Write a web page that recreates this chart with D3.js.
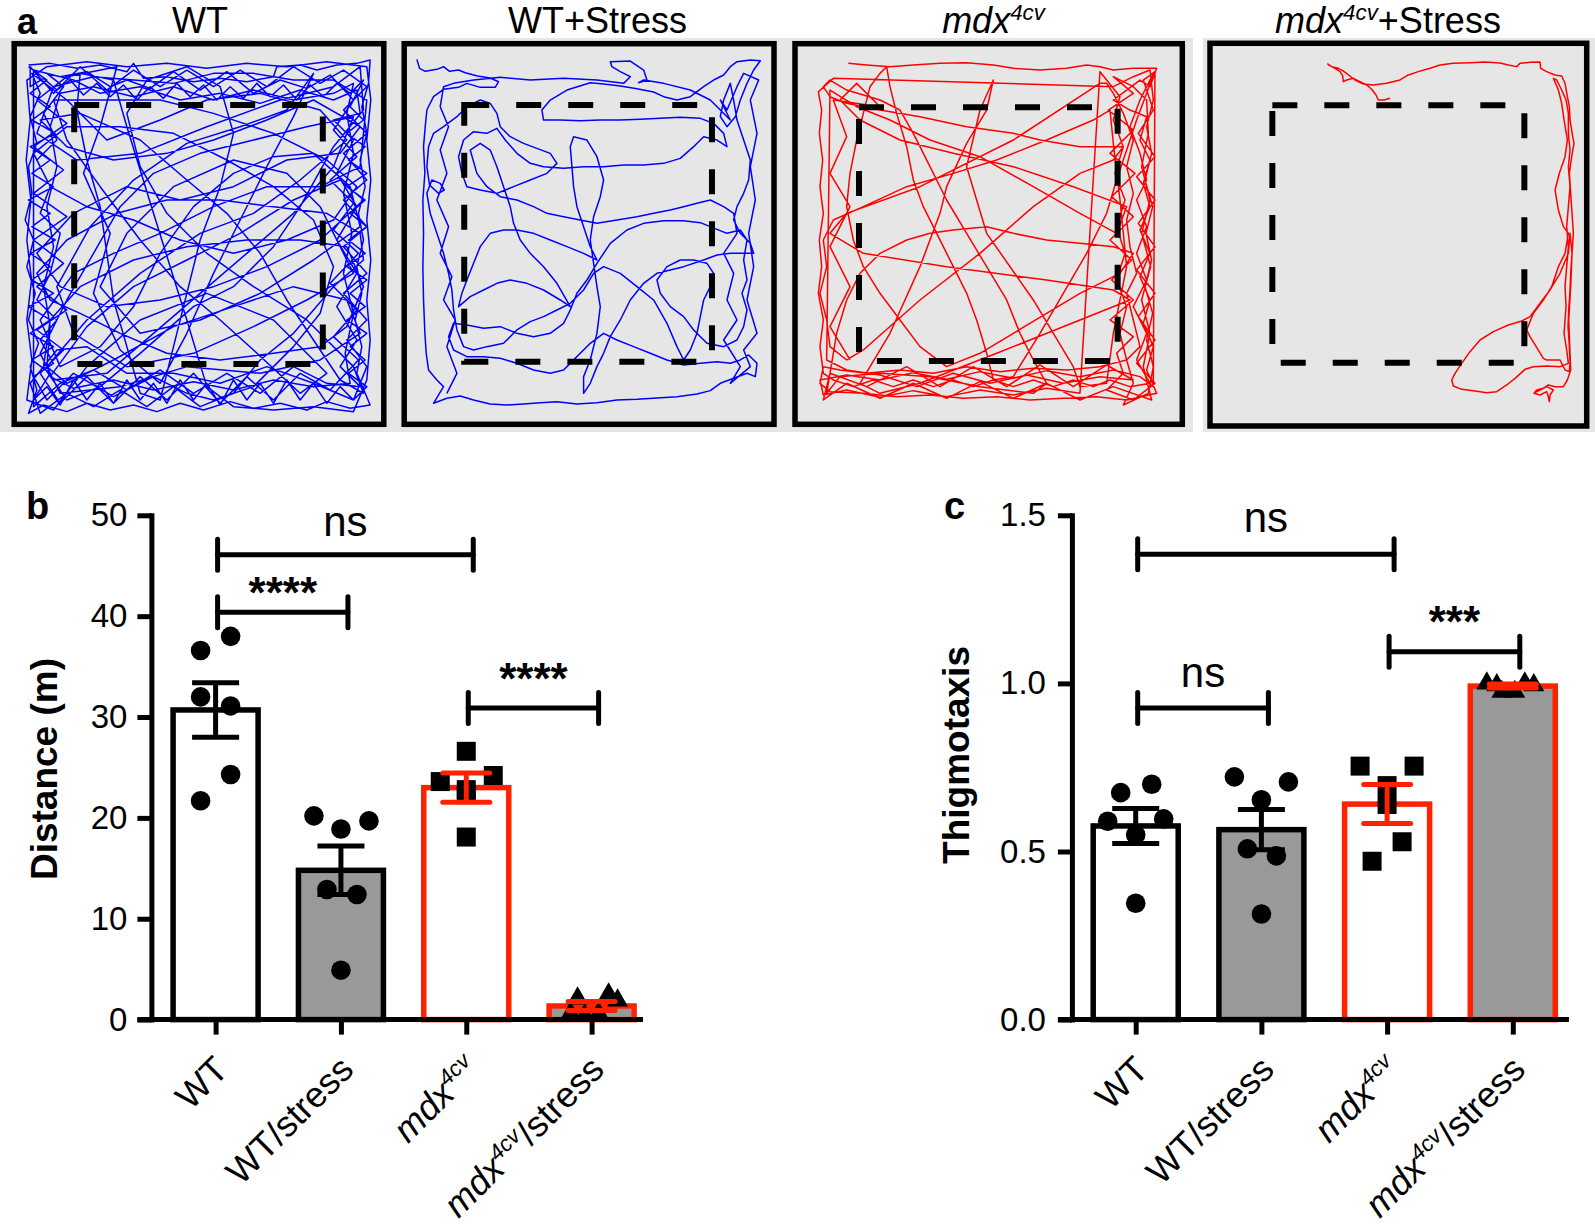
<!DOCTYPE html>
<html>
<head>
<meta charset="utf-8">
<script src="https://cdn.jsdelivr.net/npm/d3@7"></script>
<style>
  html, body { margin: 0; padding: 0; background: #fff; }
  svg { display: block; }
</style>
</head>
<body>
<svg id="fig" width="1595" height="1231"></svg>
<script>
// ------------------------------------------------------------------
// DATA
// ------------------------------------------------------------------
const arenaTitles = ["WT", "WT+Stress", "mdx4cv", "mdx4cv+Stress"];
const categories = ["WT", "WT/stress", "mdx4cv", "mdx4cv/stress"];

// Panel b: distance travelled (m)
const distanceTicks = [0, 10, 20, 30, 40, 50];
const distanceMean = [30.7, 14.8, 23.0, 1.35];
const distanceSEM  = [2.7, 2.4, 1.45, 0.45];
const distancePoints = [
  [36.6, 38.0, 32.0, 31.1, 24.3, 21.7],
  [20.2, 19.7, 18.9, 12.9, 12.4, 4.9],
  [26.6, 23.6, 24.2, 22.3, 18.1, 22.8],
  [2.1, 2.5, 1.9, 0.6, 0.4, 0.6]
];
const distanceBrackets = [
  { from: 0, to: 2, level: 46.1, label: "ns" },
  { from: 0, to: 1, level: 40.4, label: "****" },
  { from: 2, to: 3, level: 30.9, label: "****" }
];

// Panel c: thigmotaxis
const thigTicks = [0, 0.5, 1.0, 1.5];
const thigMean = [0.576, 0.565, 0.641, 0.992];
const thigSEM  = [0.052, 0.060, 0.058, 0.006];
const thigPoints = [
  [0.675, 0.700, 0.590, 0.597, 0.550, 0.346],
  [0.722, 0.707, 0.654, 0.508, 0.487, 0.314],
  [0.754, 0.754, 0.696, 0.529, 0.471, 0.640],
  [0.995, 1.000, 0.995, 1.000, 0.975, 0.975]
];
const thigBrackets = [
  { from: 0, to: 2, level: 1.384, label: "ns" },
  { from: 0, to: 1, level: 0.927, label: "ns" },
  { from: 2, to: 3, level: 1.094, label: "***" }
];

// Panel a: open-field tracks, in tracker (camera) units.
const arenaFrames = [[42, 1151, 131, 1273], [42, 1151, 131, 1273], [45, 1207, 131, 1273], [150, 1280, 130, 1278]];
const centerZones = [[222, 968, 315, 1092], [222, 965, 315, 1085], [237, 1013, 322, 1083], [337, 1093, 316, 1088]];

const trackWT = [
[85,195],[150,190],[230,205],[300,195],[380,215],[400,190],[430,235],[500,230],[580,245],[660,235],[740,245],[820,230],[830,200],[900,195],[950,210],[1010,195],[1070,190],[1110,180],[1105,250],[1085,320],[1100,400],[1080,480],[1095,560],[1075,640],[1090,720],[1070,800],[1085,880],[1065,960],[1085,1040],[1070,1120],[1110,1215],[1050,1225],[980,1205],[920,1230],[840,1210],[760,1225],[690,1205],[610,1230],[540,1210],[470,1235],[400,1215],[330,1230],[260,1210],[200,1235],[130,1215],[85,1240],[110,1170],[90,1100],[115,1030],[85,960],[105,880],[80,800],[100,720],[75,660],[95,580],[85,500],[110,430],[90,350],[120,280],[95,220],
[200,300],[320,420],[480,360],[620,300],[780,280],[960,330],[1040,420],[900,540],[760,640],[600,700],[420,820],[260,960],[140,1100],[200,1150],[340,1080],[520,980],[700,920],[880,860],[1040,900],[1080,1000],[960,1080],[780,1120],[560,1100],[360,1160],[180,1180],[120,1060],[200,900],[280,760],[360,620],[460,520],[600,460],[760,420],[920,380],[1060,350],[1000,500],[880,640],[740,760],[600,880],[460,1000],[320,1120],[160,1140],
[140,1100],[150,980],[130,860],[160,740],[140,620],[170,500],[150,380],[180,280],[280,260],[400,290],[520,260],[640,300],[760,270],[880,300],[1000,280],[1060,250],[1040,340],[1060,460],[1030,580],[1055,700],[1030,820],[1060,940],[1035,1060],[1050,1150],[940,1160],[820,1140],[700,1170],[580,1145],[460,1170],[340,1140],[220,1165],[150,1130],
[260,980],[400,860],[560,780],[720,700],[880,600],[1020,540],[1090,600],[960,720],[800,800],[640,860],[480,900],[320,920],[180,860],[110,760],[220,640],[380,560],[540,600],[700,560],[860,480],[1020,460],[1080,380],[940,300],[800,360],[640,420],[500,460],[340,480],[200,440],[120,360],[240,340],[420,420],[560,540],[680,640],[780,760],[860,900],[940,1020],[1020,1140],[1090,1180],[1060,1100],
[920,960],[760,860],[620,760],[500,640],[420,500],[380,340],[440,240],[560,200],[660,260],[700,400],[660,560],[600,720],[560,880],[520,1040],[480,1200],[420,1180],[380,1040],[340,900],[320,760],[300,620],[260,480],[230,330],[240,220],[340,240],[380,380],[460,640],[560,960],[620,1160],
[700,1220],[820,1230],[940,1220],[1060,1235],[1100,1140],[1110,1020],[1100,900],[1112,780],[1100,660],[1112,540],[1100,420],[1112,300],[1100,200],[980,185],[860,200],[740,190],[620,205],[500,190],[380,200],[260,185],[140,200],[80,240],[90,360],[78,480],[92,600],[80,720],[94,840],[80,960],[95,1080],[80,1200],[160,1230],
[260,1100],[420,960],[620,880],[820,960],[980,1120],[900,1180],[760,1050],[660,960],[540,860],[420,720],[300,560],[200,420],[160,300],[300,300],[480,300],[640,340],[820,400],[980,480],[1070,560],[1000,660],[860,720],[700,760],[540,720],[400,660],[260,620],[150,560],[100,460],[200,380],[360,380],[520,400],[680,480],[820,560],[940,660],[1000,800],[960,940],[880,1040],[760,1160],[640,1200],
[560,1180],[460,1130],[340,1190],[220,1120],[140,1200],[100,1130],[160,1090],[120,1020],[170,960],[110,900],[150,820],[180,700],[120,640],[150,560],[110,480],[170,420],[130,340],[190,260],[140,220],[220,240],[300,280],[420,260],[540,300],[660,280],[780,310],[900,270],[1000,300],[1070,270],[1080,340],[1000,360],[1060,420],[1010,520],[1070,620],[1010,720],[1070,820],[1010,920],[1070,1020],[1020,1100],[1080,1160],[980,1150],[880,1100],[780,1180],[680,1120],[580,1180],[480,1110],[380,1170],[280,1110],[180,1150],[100,1220],
[100,210],[180,230],[260,215],[330,260],[380,240],[450,265],[520,215],[600,270],[680,215],[760,280],[840,240],[920,265],[990,225],[1060,300],[1000,390],[1070,470],[990,540],[1060,610],[1000,690],[1075,760],[990,850],[1070,930],[1000,1010],[1075,1080],[990,1170],[900,1120],[820,1200],[740,1130],[660,1210],[580,1120],[500,1200],[420,1130],[340,1210],[260,1130],[180,1210],[120,1120],[190,1050],[110,990],[200,930],[110,860],[190,790],[100,720],[200,650],[100,580],[190,510],[100,440],[200,370],[110,300],[200,230],
[350,200],[300,380],[250,520],[330,700],[280,880],[360,1050],[480,1150],[560,1000],[640,820],[720,660],[800,500],[880,350],[940,220],[860,330],[720,380],[560,430],[400,540],[270,680],[170,860],[220,1000],[380,1100],[580,1060],[760,980],[920,900],[1060,820],[960,620],[860,520],[700,480],[520,560],[380,700],[300,860],[420,1000],[600,960],[780,880],[940,780],[1080,680],
[1050,560],[940,460],[820,470],[700,520],[580,620],[480,760],[400,920],[300,1040],[180,1100],[120,960],[220,820],[340,760],[480,700],[640,620],[800,560],[960,560],[1080,500],[1100,300],[1000,240],[880,240],[760,220],[640,220],[520,250],[400,240],[280,230],[160,260],[110,400],[230,480],[420,460],[620,380],[840,300],[1000,260],
[1080,200],[1090,330],[1000,440],[900,620],[820,740],[700,860],[580,920],[420,1060],[300,1160],[200,1200],[130,1100],[150,960],[240,860],[400,780],[560,740],[740,720],[900,720],[1040,740],[1090,860],[1040,980],[960,1040],[820,1060],[660,1080],[500,1060],[360,1000],[240,940],[150,900],[110,820],[200,720],[350,640],[500,600],[660,600],[820,620],[980,640],[1080,700],
[1090,780],[1000,860],[880,1000],[780,1080],[700,1180],[600,1220],[520,1160],[440,1220],[360,1170],[280,1220],[200,1180],[120,1240],[90,1150],[170,1050],[260,1040],[380,1120],[520,1120],[660,1150],[800,1100],[940,1150],[1060,1200],[1100,1100],[1040,1020],[1100,960],[1030,880],[1100,820],[1030,740],[1100,680],[1030,600],[1100,540],[1030,460],[1100,400],[1030,330],[1100,260],[1030,210],[960,250],[880,200],[800,260],[720,210],[640,260],[560,210],[480,260],[400,210],[320,270],[240,200],[160,280],[90,200],
[90,260],[130,235],[170,270],[210,240],[250,285],[290,250],[330,290],[370,255],[410,300],[450,260],[490,295],[530,250],[570,290],[610,255],[650,300],[690,260],[730,295],[770,250],[810,290],[850,255],[890,300],[930,255],[970,290],[1010,250],[1050,280],[1090,240],
[1050,320],[1090,360],[1040,400],[1095,440],[1045,480],[1100,520],[1040,560],[1095,600],[1050,640],[1100,680],[1045,720],[1095,760],[1040,800],[1100,840],[1050,880],[1095,920],[1040,960],[1100,1000],[1050,1040],[1095,1080],[1045,1120],[1100,1160],[1060,1200],
[1020,1160],[980,1210],[940,1150],[900,1200],[860,1140],[820,1210],[780,1150],[740,1200],[700,1140],[660,1215],[620,1150],[580,1200],[540,1140],[500,1210],[460,1150],[420,1200],[380,1140],[340,1210],[300,1150],[260,1200],[220,1140],[180,1215],[140,1160],[100,1200],
[150,1120],[95,1080],[160,1040],[90,1000],[150,960],[85,920],[160,880],[95,840],[150,800],[90,760],[165,720],[95,680],[150,640],[85,600],[160,560],[95,520],[150,480],[90,440],[165,400],[95,360],[150,320],[90,280],[140,240],[85,200]
];

const trackWTStress = [
[80,178],[88,205],[105,214],[140,208],[160,200],[178,214],[205,210],[225,218],[262,228],[300,234],[325,245],[315,262],[270,262],[230,250],[205,262],[160,268],[130,290],[110,330],[105,380],[100,440],[104,520],[98,600],[100,700],[98,800],[100,900],[104,1000],[108,1060],[115,1110],[140,1140],[160,1160],[145,1185],[130,1210],[170,1195],[210,1188],[250,1200],[300,1212],[350,1215],[400,1212],[450,1208],[500,1205],[560,1212],[620,1208],[680,1200],[740,1198],[800,1194],[860,1190],[920,1182],[960,1172],[990,1150],[1030,1135],[1070,1120],[1095,1130],[1100,1090],[1075,1065],[1050,1080],[1020,1090],[980,1085],[930,1090],[880,1095],[830,1080],[780,1060],[730,1040],[680,1020],[640,1000],[600,1030],[570,1060],[545,1085],[520,1110],[480,1120],[430,1110],[380,1090],[330,1075],[280,1070],[230,1070],[190,1050],[175,1010],[190,970],[230,975],[280,985],[330,980],[380,1000],[430,1010],[480,1000],[520,970],[540,930],[560,880],[590,840],[620,790],[660,730],[710,690],[760,670],[820,662],[880,662],[930,668],[980,688],[1010,700],[1050,690],[1070,720],[1060,780],[1070,840],[1055,880],[1070,930],[1060,980],[1040,1020],[1000,1040],[950,1030],[910,990],[880,950],[840,920],[810,880],[800,840],[830,800],[870,780],[910,780],[950,790],[970,820],[960,860],[940,900],[930,950],[920,1000],[900,1050],[880,1080],
[860,1040],[830,970],[790,900],[740,860],[690,820],[640,800],[610,820],[580,870],[540,910],[500,930],[460,950],[420,965],[380,990],[340,1030],[290,1040],[250,1050],[220,1040],[200,990],[190,930],[185,870],[175,820],[160,760],[140,700],[120,640],[110,580],[125,540],[150,550],[162,570],[145,580],[118,555],[110,500],[115,440],[130,400],[160,380],[200,350],[230,320],[270,300],[300,310],[320,340],[330,380],[360,410],[400,430],[440,445],[480,460],[500,490],
[470,520],[420,540],[370,560],[320,580],[270,570],[230,560],[215,520],[205,470],[220,420],[250,395],[290,400],[320,385],[345,420],[380,460],[420,490],[460,500],[520,505],[580,500],[640,500],[700,495],[760,495],[820,490],[870,475],[910,440],[940,410],[980,420],[1010,440],[1000,400],[970,370],[930,355],[870,352],[810,355],[750,358],[690,360],[630,360],[570,362],[510,360],[460,360],[455,330],[480,300],[530,270],[600,248],[640,252],[690,258],[740,266],[790,276],[820,290],[860,300],[900,290],[940,260],[970,240],[1000,225],[1020,200],[1040,185],[1080,180],[1110,182],
[1090,210],[1070,250],[1050,300],[1035,350],[1010,380],[990,350],[1000,300],[1020,250],[1030,300],[1040,360],[1060,420],[1080,480],[1075,540],[1060,580],[1040,620],[1030,660],[1050,700],[1080,730],[1090,760],
[1060,760],[1020,760],[980,765],[940,780],[880,800],[840,810],[800,820],[760,850],[720,900],[690,960],[660,1010],[640,1060],[620,1100],[600,1150],[580,1180],
[580,1130],[600,1080],[620,1000],[630,920],[620,860],[610,790],[600,720],[610,650],[630,590],[640,540],[620,470],[590,420],[550,410],[540,440],[545,500],[550,560],[560,620],[580,680],[600,740],[620,780],
[580,760],[530,740],[480,720],[430,700],[380,690],[340,690],[300,700],[270,740],[250,790],[230,840],[215,880],[205,920],
[240,890],[280,870],[320,850],[360,840],[410,850],[460,870],[510,900],[540,920],
[500,850],[460,800],[420,760],[390,720],[370,670],[360,620],[340,560],[320,500],[300,450],[270,430],[240,450],
[260,520],[290,560],[330,590],[380,600],[430,620],[470,640],[520,650],[570,660],[620,670],[680,660],[740,650],[790,640],[840,630],[880,620],[920,610],[960,600],[1000,620],[1030,640],
[1040,700],[1000,760],[1030,820],[1010,900],[1040,960],[1000,1020],[1050,1100],[1020,1150],[1080,1100],[1060,1050],[1100,1000],[1070,900],[1090,800],[1075,700],[1095,600],[1080,500],[1100,400],[1080,300],[1105,240],
[1060,220],[1040,260],[1010,330],[990,300],[1020,360],[960,300],[900,270],[820,250],[760,240],
[745,248],[770,240],[760,210],[720,183],[660,185],[665,200],[690,215],[720,230],[700,250],[620,240],[520,235],[420,240],[330,232],[250,240],[190,250],[160,260],
[150,320],[175,380],[150,450],[170,520],[140,600],[175,680],[150,760],[185,830],[160,900],[195,960],[170,1040],[200,1120],[170,1180]
];

const trackMdx = [
[205,190],[260,195],[330,200],[400,195],[480,190],[560,188],[640,195],[700,205],[780,210],[860,205],[920,195],[960,200],[1000,210],[1060,205],[1130,205],
[1110,260],[1080,240],[1040,270],[1000,300],[1050,330],[1100,350],[1080,420],[1110,480],[1090,550],[1110,620],[1080,690],[1110,760],[1080,830],[1110,900],[1090,970],[1120,1040],[1100,1110],[1130,1180],[1040,1200],[950,1190],[850,1195],[750,1200],[650,1190],[550,1195],[450,1185],[350,1190],[250,1180],[150,1175],[120,1150],[130,1100],[180,1110],[260,1120],[360,1110],[460,1120],[560,1100],[660,1115],[760,1105],[860,1110],[960,1100],[1040,1080],[1080,1040],[1060,960],[1040,880],[1070,820],[1050,740],[1040,660],[1060,580],[1040,500],[1060,420],[1030,340],[1000,280],[980,250],
[960,250],[700,420],[420,560],[200,640],[150,700],[250,760],[500,800],[800,840],[1000,870],[1050,900],[900,960],[650,1060],[420,1150],[300,1180],
[240,1150],[330,1000],[420,800],[480,640],[500,560],[560,430],[620,330],[640,240],[600,330],[560,500],[620,700],[760,900],[880,1100],[900,1160],
[980,1150],[1000,1000],[1040,800],[1020,600],[1000,430],[990,330],[940,360],[800,420],[650,480],[520,520],[380,560],[250,620],[160,660],[130,720],
[140,800],[120,880],[140,960],[150,1040],[200,1080],
[250,1050],[420,900],[600,760],[760,620],[900,520],[1000,480],
[1030,440],[900,440],[780,420],[700,400],[560,380],[420,350],[300,330],[200,310],[150,290],[130,260],[150,240],[200,270],[300,300],[360,330],[400,400],[450,500],[500,600],[560,700],[620,800],[680,900],[720,1000],[760,1080],[800,1150],
[760,1180],[600,1160],[450,1130],[300,1120],[180,1130],[140,1180],
[170,1000],[200,900],[240,820],[300,760],[380,720],[450,700],[520,690],[620,680],[700,700],[800,720],[900,730],[1000,740],[1060,760],
[1020,820],[900,880],[800,940],[700,1000],[600,1060],[500,1100],
[420,1040],[360,960],[300,880],[250,800],[220,720],[200,620],[210,520],[230,420],[250,340],[270,260],[300,220],[320,200],
[330,260],[350,340],[380,440],[400,540],[430,620],[470,700],[520,800],[560,880],[590,960],[620,1060],[640,1140],
[700,1130],[780,1000],[850,880],[920,760],[980,640],[1010,540],[1040,450],[1070,360],[1100,280],[1120,220],
[1080,300],[1050,380],[1080,460],[1100,540],[1070,600],[1100,680],[1070,760],[1100,840],[1060,920],[1100,1000],[1070,1080],[1110,1150],[1050,1160],[990,1140],[940,1160],[880,1140],[820,1160],[760,1140],[700,1160],[640,1140],[580,1160],[520,1140],[460,1160],[400,1140],[340,1160],[280,1140],[220,1160],[160,1140],[130,1120],
[120,1040],[130,960],[115,880],[125,800],[118,720],[130,640],[120,560],[128,480],[118,400],[125,330],[115,275],[160,235],
[1000,260],[1060,230],[1110,210],[1120,300],[1100,380],[1115,460],[1095,540],[1118,620],[1098,700],[1115,780],[1095,860],[1118,940],[1100,1020],[1120,1100],[1105,1180],[1030,1215],
[1060,1150],[1040,1080],[1020,1000],[1040,920],[1010,840],[1035,760],[1010,680],[1035,600],[1005,520],[1030,440],[1000,360],[1020,290],[980,240],[960,215],
[900,1180],[800,1165],[700,1185],[600,1170],[500,1190],[400,1172],[300,1192],[200,1170],[130,1185],[120,1140],[200,1125],[300,1140],[400,1118],[500,1138],[600,1115],[700,1135],[800,1112],[900,1130],[1000,1110],[1080,1130],[1120,1160],
[1125,215],[1090,240],[1120,330],[1075,400],[1125,470],[1070,530],[1125,600],[1075,670],[1125,740],[1070,810],[1125,880],[1075,950],[1125,1020],[1070,1090],[1125,1150],[1060,1200],[980,1170],[1030,1120],[1010,1060],[1060,1010],[990,960],[1060,900],[995,840],[1055,780],[990,720],[1060,650],[995,590],[1065,520],[990,460],[1060,390],[985,330],[1060,280],[1000,230],[1060,260],[1100,300],[1105,400],[1085,500],[1110,600],[1085,700],[1112,800],[1085,900],[1110,1000],[1090,1100],[1115,1200],
[1000,1160],[900,1200],[800,1150],[700,1195],[600,1145],[500,1195],[400,1150],[300,1195],[200,1150],[130,1200],[150,1120],[260,1160],[380,1100],[480,1160],[580,1100],[680,1160],[780,1095],[880,1160],[980,1095],[1060,1140],
[960,1130],[850,1150],[740,1125],[630,1150],[520,1120],[410,1160],[300,1125],[200,1110],[140,1080],
[150,270],[230,320],[330,360],[450,420],[600,470],[760,560],[900,640],[1010,700],
[1040,620],[880,560],[700,500],[520,460],[360,420],[240,360],[180,300],[230,250],[300,320],
[160,300],[200,410],[150,520],[210,620],[150,740],[210,860],[150,980],[210,1080]
];

const trackMdxStress = [
[690,295],[672,300],[655,300],[648,285],[635,268],[620,255],[600,245],[580,235],[560,240],[550,245],[548,228],[540,215],[525,205],[508,196],[503,192],[515,200],[535,205],[548,212],[562,222],[585,240],[610,252],[640,255],[680,250],[720,240],[745,225],[775,215],[810,205],[840,195],[880,190],[930,188],[975,186],[1020,189],[1045,195],[1070,200],[1080,190],[1110,187],[1140,186],[1142,205],[1160,215],[1185,225],[1205,228],[1215,250],[1222,290],[1228,320],[1230,360],[1238,410],[1242,430],[1235,470],[1228,520],[1232,580],[1236,640],[1240,700],[1236,760],[1232,820],[1230,870],[1226,930],[1224,980],[1228,1040],[1230,1090],[1228,1115],
[1215,1110],[1200,1080],[1160,1080],[1150,1075],[1110,1010],[1100,990],[1120,940],[1150,900],[1175,860],[1195,800],[1215,760],[1225,700],[1210,680],[1195,630],[1185,570],[1198,520],[1215,470],[1222,420],[1212,360],[1205,310],[1195,270],[1180,235],[1190,240],[1205,270],[1218,300],[1225,340],[1225,400],[1230,450],[1225,500],[1230,560],[1225,620],[1220,680],[1225,740],[1220,800],[1215,860],[1218,920],[1215,960],[1212,1000],[1220,1050],[1225,1090],
[1200,1100],[1160,1098],[1120,1100],[1095,1108],[1065,1135],[1040,1155],[1010,1175],[980,1178],[940,1172],[905,1168],[880,1158],[875,1140],[885,1120],[905,1090],[930,1055],[960,1020],[1000,995],[1045,975],[1085,963],[1110,950],[1140,910],[1170,870],[1200,820],[1225,760],[1230,700],[1236,760],[1232,860],[1226,960],[1230,1060],[1232,1110],
[1222,1140],[1210,1160],[1185,1160],[1165,1155],[1150,1165],[1130,1170],[1122,1180],[1140,1185],[1160,1175],[1165,1190],[1168,1205],[1170,1185],[1180,1170],[1160,1160],[1140,1170],[1125,1178]
];

// ------------------------------------------------------------------
// LAYOUT / STYLE
// ------------------------------------------------------------------
const FONT = '"Liberation Sans", Arial, Helvetica, sans-serif';
const tracks = [trackWT, trackWTStress, trackMdx, trackMdxStress];
const trackColors = ["#0000ff", "#0000ff", "#ff0000", "#ff0000"];
const arenaBoxes = [
  { x0: 14.2, x1: 383.8, y0: 43.7, y1: 424.3, tx: 200 },
  { x0: 404.2, x1: 774.0, y0: 43.7, y1: 424.3, tx: 597.5 },
  { x0: 795.0, x1: 1182.3, y0: 43.7, y1: 424.3, tx: 993.5 },
  { x0: 1210.0, x1: 1586.7, y0: 43.3, y1: 426.0, tx: 1388 }
];
const RED = "#ff2200";
const barFill = ["#ffffff", "#999999", "#ffffff", "#999999"];
const barStroke = ["#000000", "#000000", RED, RED];
const markerShape = ["circle", "circle", "square", "triangle"];

const distanceOffsets = [
  [-15, 15, -15, 15, 15, -15],
  [-27, 28, 0, -14, 16, 0],
  [0, -26, 27, 0, 0, 0],
  [-14, 17, 26, -21, -7, 7]
];
const thigOffsets = [
  [-15, 16, -28, 28, 0, 0],
  [-27, 27, 0, -14, 15, 0],
  [-27, 27, 0, 15, -15, 0],
  [-16, 12, 21, -26, -11, 2]
];
// vertical gap (px) between each bracket line and the bottom of its label
const distanceLabelGap = [19, 23, 33];
const thigLabelGap = [22, 21, 34];

const svg = d3.select("#fig");

function richText(sel, label, size) {
  const m = label.match(/^mdx4cv(.*)$/);
  if (m) {
    sel.append("tspan").attr("font-style", "italic").text("mdx");
    sel.append("tspan").attr("font-style", "italic")
      .attr("font-size", size * 0.62).attr("dy", -size * 0.36).text("4cv");
    if (m[1]) sel.append("tspan").attr("dy", size * 0.36).text(m[1]);
  } else {
    sel.text(label);
  }
}

// ------------------------------------------------------------------
// PANEL a
// ------------------------------------------------------------------
const gA = svg.append("g");
gA.append("rect").attr("x", 0).attr("y", 38).attr("width", 1193).attr("height", 394).attr("fill", "#e6e6e6");
gA.append("rect").attr("x", 1203).attr("y", 38).attr("width", 392).attr("height", 394).attr("fill", "#e6e6e6");

arenaBoxes.forEach((b, i) => {
  const f = arenaFrames[i];
  const xs = d3.scaleLinear().domain([f[0], f[1]]).range([b.x0, b.x1]);
  const ys = d3.scaleLinear().domain([f[2], f[3]]).range([b.y0, b.y1]);
  const line = d3.line().x(d => xs(d[0])).y(d => ys(d[1])).curve(d3.curveLinear);
  gA.append("path").datum(tracks[i]).attr("d", line)
    .attr("fill", "none").attr("stroke", trackColors[i]).attr("stroke-width", 1.5)
    .attr("stroke-linejoin", "round");
  const z = centerZones[i];
  gA.append("rect").attr("x", xs(z[0])).attr("y", ys(z[2]))
    .attr("width", xs(z[1]) - xs(z[0])).attr("height", ys(z[3]) - ys(z[2]))
    .attr("fill", "none").attr("stroke", "#000").attr("stroke-width", 6)
    .attr("stroke-dasharray", "25 27");
  gA.append("rect").attr("x", b.x0).attr("y", b.y0).attr("width", b.x1 - b.x0).attr("height", b.y1 - b.y0)
    .attr("fill", "none").attr("stroke", "#000").attr("stroke-width", 5.5);
  const t = gA.append("text").attr("x", b.tx).attr("y", 33).attr("text-anchor", "middle")
    .attr("font-family", FONT).attr("font-size", 36).attr("fill", "#000");
  richText(t, arenaTitles[i], 36);
});

// ------------------------------------------------------------------
// PANELS b and c
// ------------------------------------------------------------------
function barPanel(cfg) {
  const g = svg.append("g");
  const y = d3.scaleLinear().domain(cfg.domain).range([1019.6, 515.3]);
  const x = d3.scalePoint().domain(categories).range(cfg.xRange);

  // bars
  g.selectAll("rect.bar").data(cfg.mean).join("rect").attr("class", "bar")
    .attr("x", (d, i) => x(categories[i]) - 42.5).attr("width", 85)
    .attr("y", d => y(d)).attr("height", d => y(0) - y(d))
    .attr("fill", (d, i) => barFill[i]).attr("stroke", (d, i) => barStroke[i])
    .attr("stroke-width", 5.5);

  // individual points
  cfg.points.forEach((vals, i) => {
    const cx = x(categories[i]);
    vals.forEach((v, j) => {
      const px = cx + cfg.offsets[i][j], py = y(v);
      if (markerShape[i] === "circle") {
        g.append("circle").attr("cx", px).attr("cy", py).attr("r", 9.8).attr("fill", "#000");
      } else {
        const sym = markerShape[i] === "square" ? d3.symbolSquare : d3.symbolTriangle;
        const size = markerShape[i] === "square" ? 361 : 190;
        g.append("path").attr("d", d3.symbol().type(sym).size(size)())
          .attr("transform", `translate(${px},${py})`).attr("fill", "#000");
      }
    });
  });

  // error bars (SEM)
  cfg.mean.forEach((m, i) => {
    const cx = x(categories[i]);
    const col = barStroke[i];
    const cap = i >= 2 ? "round" : "butt";
    const lo = y(m - cfg.sem[i]), hi = y(m + cfg.sem[i]);
    g.append("line").attr("x1", cx).attr("x2", cx).attr("y1", lo).attr("y2", hi)
      .attr("stroke", col).attr("stroke-width", 5);
    [lo, hi].forEach(yy => {
      g.append("line").attr("x1", cx - 23.5).attr("x2", cx + 23.5).attr("y1", yy).attr("y2", yy)
        .attr("stroke", col).attr("stroke-width", 5).attr("stroke-linecap", cap);
    });
  });

  // y axis
  const yAxis = d3.axisLeft(y).tickValues(cfg.ticks).tickFormat(cfg.fmt)
    .tickSize(14).tickSizeOuter(0).tickPadding(cfg.pad);
  const gy = g.append("g").attr("transform", `translate(${cfg.axisX},0)`).call(yAxis);
  gy.attr("font-family", FONT).attr("font-size", 33);
  gy.select(".domain").attr("stroke", "#000").attr("stroke-width", 5).attr("stroke-linecap", "square");
  gy.selectAll(".tick line").attr("stroke", "#000").attr("stroke-width", 5);
  gy.selectAll(".tick text").attr("fill", "#000");

  // x axis
  g.append("line").attr("x1", cfg.axisX - 14).attr("x2", cfg.xEnd).attr("y1", y(0)).attr("y2", y(0))
    .attr("stroke", "#000").attr("stroke-width", 5);
  const xAxis = d3.axisBottom(x).tickSize(15).tickSizeOuter(0).tickFormat(() => "");
  const gx = g.append("g").attr("transform", `translate(0,${y(0)})`).call(xAxis);
  gx.select(".domain").remove();
  gx.selectAll(".tick line").attr("stroke", "#000").attr("stroke-width", 5);
  gx.selectAll(".tick text").remove();
  gx.selectAll(".tick").each(function (d) {
    const t = d3.select(this).append("text")
      .attr("transform", "translate(14,52) rotate(-45)")
      .attr("text-anchor", "end").attr("font-family", FONT).attr("font-size", 36).attr("fill", "#000");
    richText(t, d, 36);
  });

  // significance brackets
  cfg.brackets.forEach((br, k) => {
    const x1 = x(categories[br.from]) + 2, x2 = x(categories[br.to]) + 7, yy = y(br.level);
    g.append("line").attr("x1", x1).attr("x2", x2).attr("y1", yy).attr("y2", yy)
      .attr("stroke", "#000").attr("stroke-width", 5).attr("stroke-linecap", "round");
    [x1, x2].forEach(xx => {
      g.append("line").attr("x1", xx).attr("x2", xx).attr("y1", yy - 15.5).attr("y2", yy + 15.5)
        .attr("stroke", "#000").attr("stroke-width", 5).attr("stroke-linecap", "round");
    });
    const isStar = br.label.indexOf("*") >= 0;
    const gap = cfg.labelGap[k];
    g.append("text").attr("x", (x1 + x2) / 2).attr("y", isStar ? yy - gap + 19 : yy - gap)
      .attr("text-anchor", "middle").attr("font-family", FONT)
      .attr("font-weight", isStar ? "bold" : "normal")
      .attr("font-size", isStar ? 44 : 42).attr("fill", "#000").text(br.label);
  });

  // axis title
  g.append("text").attr("transform", `translate(${cfg.titleX},${cfg.titleY}) rotate(-90)`)
    .attr("text-anchor", "middle").attr("font-family", FONT).attr("font-weight", "bold")
    .attr("font-size", 37).attr("fill", "#000").text(cfg.title);

  // panel letter
  g.append("text").attr("x", cfg.letterX).attr("y", 519).attr("font-family", FONT)
    .attr("font-weight", "bold").attr("font-size", 38).attr("fill", "#000").text(cfg.letter);
}

barPanel({
  domain: [0, 50], ticks: distanceTicks, fmt: d3.format("d"), pad: 10,
  mean: distanceMean, sem: distanceSEM, points: distancePoints, offsets: distanceOffsets,
  brackets: distanceBrackets, labelGap: distanceLabelGap, xRange: [215.6, 591.6], axisX: 151.4, xEnd: 643,
  title: "Distance (m)", titleX: 57, titleY: 769, letter: "b", letterX: 26
});

barPanel({
  domain: [0, 1.5], ticks: thigTicks, fmt: d3.format(".1f"), pad: 12,
  mean: thigMean, sem: thigSEM, points: thigPoints, offsets: thigOffsets,
  brackets: thigBrackets, labelGap: thigLabelGap, xRange: [1135.7, 1512.8], axisX: 1071.9, xEnd: 1569,
  title: "Thigmotaxis", titleX: 969, titleY: 755, letter: "c", letterX: 944
});

// panel a letter
svg.append("text").attr("x", 17).attr("y", 34).attr("font-family", FONT)
  .attr("font-weight", "bold").attr("font-size", 36).attr("fill", "#000").text("a");
</script>
</body>
</html>
